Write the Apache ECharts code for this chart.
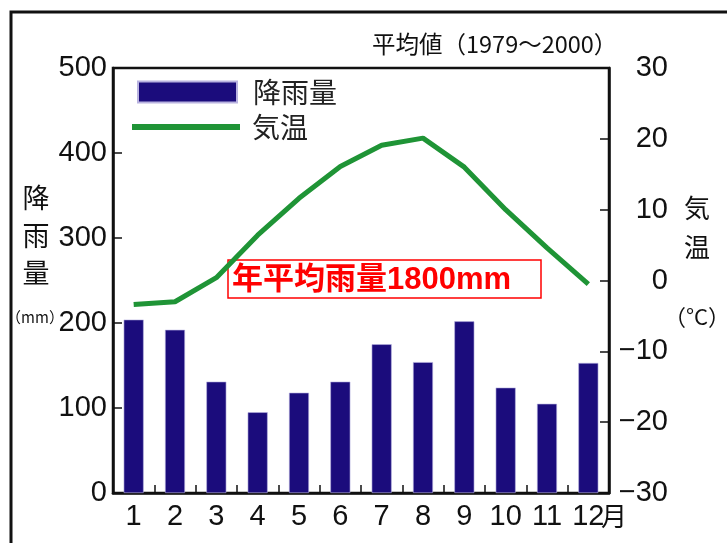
<!DOCTYPE html>
<html>
<head>
<meta charset="utf-8">
<script src="https://cdn.jsdelivr.net/npm/echarts@6/dist/echarts.min.js"></script>
<style>
html,body{margin:0;padding:0;background:#fff;}
#chart{width:727px;height:543px;}
</style>
</head>
<body>
<div id="chart"></div>
<script>
// ---- data ----
const months = ['1','2','3','4','5','6','7','8','9','10','11','12'];
const rainfall = [204, 192, 131, 95, 118, 131, 175, 154, 202, 124, 105, 153];
const temperature = [-3.4, -3.0, 0.4, 6.4, 11.6, 16.1, 19.1, 20.1, 16.0, 10.0, 4.6, -0.5];
const rainTicks = {min: 0, max: 500, interval: 100};
const tempTicks = {min: -30, max: 30, interval: 10};

const numFont = "'Liberation Sans', Arial, sans-serif";
const cjkFont = "'Noto Sans CJK JP', sans-serif";

const chart = echarts.init(document.getElementById('chart'), null, {renderer: 'canvas'});
chart.setOption({
  animation: false,
  backgroundColor: '#fff',
  grid: {left: 113, right: 118, top: 68, bottom: 50, show: true, borderColor: '#111', borderWidth: 2.5, backgroundColor: 'transparent'},
  legend: [
    {data: [{name: '降雨量', icon: 'rect'}], left: 137, top: 78, padding: 0, itemWidth: 99, itemHeight: 21, itemGap: 0,
     textStyle: {fontSize: 28, fontFamily: cjkFont, color: '#222', padding: [0, 0, 0, 11]}},
    {data: [{name: '気温', icon: 'rect'}], left: 132, top: 113, padding: 0, itemWidth: 108, itemHeight: 6, itemGap: 0,
     itemStyle: {color: '#1f9436', borderWidth: 0},
     textStyle: {fontSize: 28, fontFamily: cjkFont, color: '#222', padding: [0, 0, 0, 7]}}
  ],
  xAxis: {
    type: 'category', data: months,
    axisLine: {lineStyle: {color: '#111', width: 2.5}},
    axisTick: {show: true, inside: true, length: 8, alignWithLabel: false, lineStyle: {color: '#111', width: 1.5}},
    axisLabel: {interval: 0, fontSize: 29, fontFamily: numFont, color: '#111', margin: 9},
    splitLine: {show: false}
  },
  yAxis: [
    {type: 'value', position: 'left', min: rainTicks.min, max: rainTicks.max, interval: rainTicks.interval,
     axisLine: {show: true, lineStyle: {color: '#111', width: 2.5}},
     axisTick: {show: true, inside: true, length: 9, lineStyle: {color: '#111', width: 1.5}},
     axisLabel: {fontSize: 29, fontFamily: numFont, color: '#111', margin: 6},
     splitLine: {show: false}},
    {type: 'value', position: 'right', min: tempTicks.min, max: tempTicks.max, interval: tempTicks.interval,
     axisLine: {show: true, lineStyle: {color: '#111', width: 2.5}},
     axisTick: {show: true, inside: true, length: 9, lineStyle: {color: '#111', width: 1.5}},
     axisLabel: {fontSize: 29, fontFamily: numFont, color: '#111', margin: 59, align: 'right',
       formatter: v => (v < 0 ? '\u2212' + Math.abs(v) : String(v))},
     splitLine: {show: false}}
  ],
  series: [
    {name: '降雨量', type: 'bar', yAxisIndex: 0, data: rainfall, barWidth: 20,
     itemStyle: {color: '#1b0c7c', borderColor: '#b9b3e0', borderWidth: 0.6}},
    {name: '気温', type: 'line', yAxisIndex: 1, data: temperature, symbol: 'none',
     lineStyle: {color: '#1f9436', width: 5}, itemStyle: {color: '#1f9436'}}
  ],
  graphic: [
    {type: 'rect', shape: {x: 11, y: 12, width: 780, height: 600}, style: {fill: 'none', stroke: '#111', lineWidth: 3}, silent: true},
    {type: 'text', left: 372, top: 32, style: {text: '平均値（1979～2000）', font: "23.5px 'Noto Sans CJK JP'", fill: '#111'}},
    {type: 'text', x: 36, y: 198, style: {text: '降', font: "27px 'Noto Sans CJK JP'", fill: '#111', align: 'center', verticalAlign: 'middle'}},
    {type: 'text', x: 36, y: 236, style: {text: '雨', font: "27px 'Noto Sans CJK JP'", fill: '#111', align: 'center', verticalAlign: 'middle'}},
    {type: 'text', x: 36, y: 273, style: {text: '量', font: "27px 'Noto Sans CJK JP'", fill: '#111', align: 'center', verticalAlign: 'middle'}},
    {type: 'text', x: 35, y: 317, style: {text: '（mm）', font: "15px 'Noto Sans CJK JP'", fill: '#111', align: 'center', verticalAlign: 'middle'}},
    {type: 'text', x: 697, y: 208, style: {text: '気', font: "26px 'Noto Sans CJK JP'", fill: '#111', align: 'center', verticalAlign: 'middle'}},
    {type: 'text', x: 697, y: 247, style: {text: '温', font: "26px 'Noto Sans CJK JP'", fill: '#111', align: 'center', verticalAlign: 'middle'}},
    {type: 'text', x: 697, y: 317, style: {text: '（°C）', font: "22px 'Noto Sans CJK JP'", fill: '#111', align: 'center', verticalAlign: 'middle'}},
    {type: 'text', x: 601, y: 516, style: {text: '月', font: "26px 'Noto Sans CJK JP'", fill: '#111', align: 'left', verticalAlign: 'middle'}},
    {type: 'rect', shape: {x: 228, y: 260, width: 313, height: 38}, style: {fill: 'none', stroke: '#ff0000', lineWidth: 1.5}},
    {type: 'text', x: 232, y: 280, style: {text: '年平均雨量1800mm', font: "bold 31px 'Liberation Sans', 'Noto Sans CJK JP'", fill: '#ff0000', align: 'left', verticalAlign: 'middle'}}
  ]
});
</script>
</body>
</html>
